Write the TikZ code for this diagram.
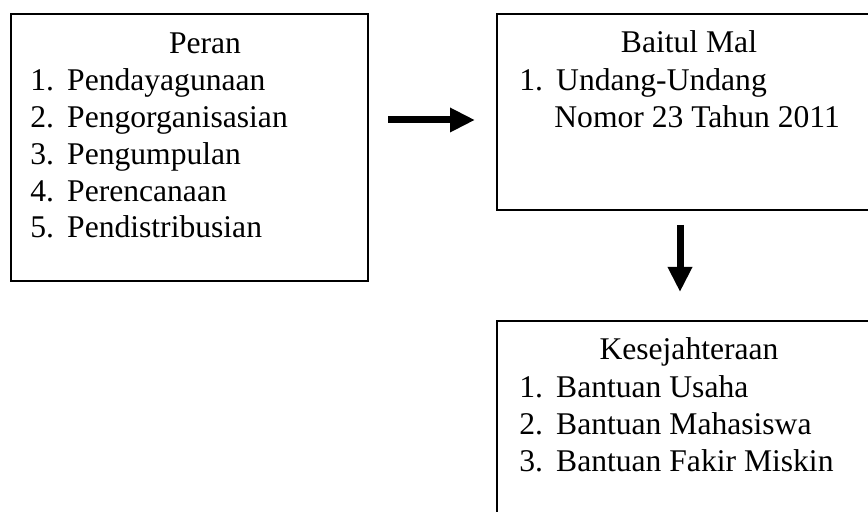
\documentclass[tikz,border=0pt]{standalone}
\usepackage{fontspec}
\setmainfont{Liberation Serif}
\usetikzlibrary{arrows.meta}

\newcommand{\nomor}[1]{\makebox[18.4pt][l]{#1}}

\begin{document}
\begin{tikzpicture}[x=0.5pt, y=-0.5pt,
  kotak/.style={draw, line width=1pt, anchor=north west, inner sep=0pt},
  judul/.style={anchor=base, inner sep=0pt, font=\fontsize{15.8}{18.4}\selectfont},
  butir/.style={anchor=base west, inner sep=0pt, font=\fontsize{15.8}{18.4}\selectfont},
  panah/.style={line width=3.5pt, -{Triangle[length=12.5pt, width=11.5pt]}}]
  \useasboundingbox (0,0) rectangle (868,512);
  \clip (0,0) rectangle (868,512);

  % kotak
  \node[kotak, minimum width=178.5pt, minimum height=133.5pt] (peran) at (10,13) {};
  \node[kotak, minimum width=200pt, minimum height=98pt] (baitul) at (496,13) {};
  \node[kotak, minimum width=200pt, minimum height=110pt] (sejahtera) at (496,320) {};

  % Peran
  \node[judul] (peran-judul) at (205,54) {Peran};
  \foreach \teks [count=\i] in {Pendayagunaan, Pengorganisasian, Pengumpulan, Perencanaan, Pendistribusian}
    \node[butir] (peran-\i) at (30,54+\i*36.8) {\nomor{\i.}\teks};

  % Baitul Mal
  \node[judul] (baitul-judul) at (689,53) {Baitul Mal};
  \node[butir] (baitul-1) at (519,91) {\nomor{1.}Undang-Undang};
  \node[butir] (baitul-1b) at (554,128) {Nomor 23 Tahun 2011};

  % Kesejahteraan
  \node[judul] (sejahtera-judul) at (689,360) {Kesejahteraan};
  \foreach \teks [count=\i] in {Bantuan Usaha, Bantuan Mahasiswa, Bantuan Fakir Miskin}
    \node[butir] (sejahtera-\i) at (519,360+\i*37.2) {\nomor{\i.}\teks};

  % panah
  \coordinate (p1a) at (388,120);
  \coordinate (p1b) at (475,120);
  \coordinate (p2a) at (680,225);
  \coordinate (p2b) at (680,292);
  \draw[panah] (p1a) -- (p1b);
  \draw[panah] (p2a) -- (p2b);
\end{tikzpicture}
\end{document}
